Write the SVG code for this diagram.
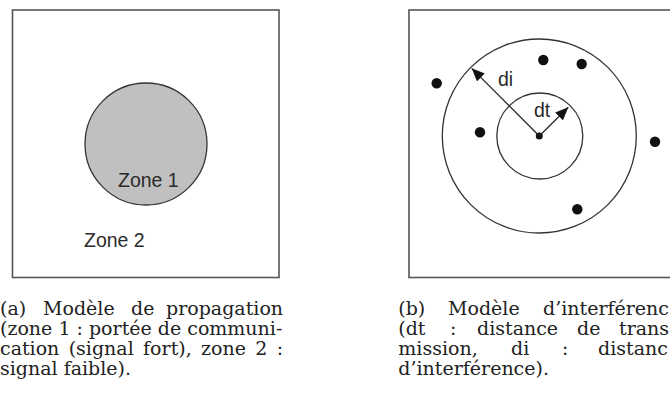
<svg xmlns="http://www.w3.org/2000/svg" width="670" height="395" viewBox="0 0 670 395">
<style>
.box{fill:#fff;stroke:#555;stroke-width:1.6}
.circ{fill:none;stroke:#333;stroke-width:1.3}
.lbl{font-family:"Liberation Sans",Arial,sans-serif;font-size:19.5px;fill:#2a2a2a}
.cap{font-family:"DejaVu Serif","Liberation Serif",serif;font-size:19px;fill:#222}
.dot{fill:#111}
.arr{stroke:#222;stroke-width:1.2;fill:none;marker-end:url(#ah)}
</style>
<defs>
<marker id="ah" markerUnits="userSpaceOnUse" markerWidth="14" markerHeight="11" refX="13" refY="5.5" orient="auto">
<path d="M0,0 L13,5.5 L0,11 z" fill="#111"/>
</marker>
</defs>
<rect width="670" height="395" fill="#fff"/>

<g id="panel-a">
<rect class="box" x="12.5" y="10" width="266.5" height="267.5"/>
<g id="zone1">
<circle cx="146" cy="144" r="61" fill="#c0c0c0" stroke="#333" stroke-width="1.3"/>
<text class="lbl" x="118" y="187">Zone 1</text>
</g>
<g id="zone2">
<text class="lbl" x="84" y="247">Zone 2</text>
</g>
</g>

<g id="panel-b">
<rect class="box" x="409" y="10" width="267" height="267.5"/>
<g id="outer-circle"><circle class="circ" cx="539.3" cy="136" r="97"/></g>
<g id="inner-circle"><circle class="circ" cx="539.8" cy="136" r="43"/></g>
<g id="center"><circle class="dot" cx="539.3" cy="136" r="3.5"/></g>
<g id="nodes">
<circle class="dot" cx="543.3" cy="60" r="5.2"/>
<circle class="dot" cx="581.7" cy="64" r="5.2"/>
<circle class="dot" cx="436.7" cy="83.3" r="5.2"/>
<circle class="dot" cx="480" cy="132.3" r="5.2"/>
<circle class="dot" cx="655" cy="141.7" r="5.2"/>
<circle class="dot" cx="577.3" cy="209.3" r="5.2"/>
</g>
<g id="connectors">
<line class="arr" x1="539.3" y1="136" x2="471.7" y2="68.3"/>
<line class="arr" x1="539.3" y1="136" x2="568.3" y2="107.3"/>
</g>
<text class="lbl" x="498" y="86">di</text>
<text class="lbl" x="534" y="116.7">dt</text>
</g>

<g id="caption-a" class="cap">
<text x="0" y="315">(a)</text>
<text x="43" y="315">Modèle</text>
<text x="131" y="315">de</text>
<text x="166" y="315">propagation</text>
<text x="0" y="335">(zone 1 : portée de communi-</text>
<text x="0" y="355" word-spacing="3.3">cation (signal fort), zone 2 :</text>
<text x="0" y="375">signal faible).</text>
</g>

<g id="caption-b" class="cap">
<text x="398.3" y="315">(b)</text>
<text x="448" y="315">Modèle</text>
<text x="543" y="315">d’interférenc</text>
<text x="398.3" y="335">(dt</text>
<text x="450" y="335">:</text>
<text x="477" y="335">distance</text>
<text x="577" y="335">de</text>
<text x="619" y="335">trans</text>
<text x="398.3" y="355">mission,</text>
<text x="511" y="355">di</text>
<text x="562" y="355">:</text>
<text x="598" y="355">distanc</text>
<text x="398.3" y="375">d’interférence).</text>
</g>
</svg>
